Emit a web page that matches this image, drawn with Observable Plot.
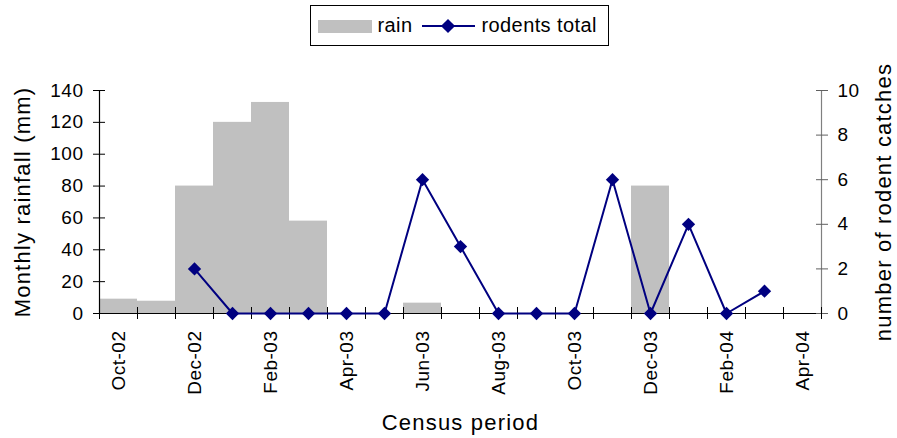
<!DOCTYPE html>
<html>
<head>
<meta charset="utf-8">
<script src="https://cdn.jsdelivr.net/npm/d3@7"></script>
<script src="https://cdn.jsdelivr.net/npm/@observablehq/plot@0.6"></script>
<style>
  body { margin: 0; background: #fff; font-family: "Liberation Sans", Arial, sans-serif; }
  #legend { position: relative; width: 897px; height: 50px; }
  #legend .box { position: absolute; left: 310px; top: 5px; width: 297px; height: 39px; border: 1.5px solid #000; }
  #legend .sw { position: absolute; left: 6.5px; top: 13.5px; width: 54px; height: 13px; background: #c0c0c0; }
  #legend .txt { position: absolute; top: 9px; font-size: 20px; line-height: 20px; color: #000; white-space: nowrap; letter-spacing: 0.4px; }
  #legend .ln { position: absolute; left: 110.5px; top: 18.5px; width: 53px; height: 2px; background: #000080; }
  #legend .dm { position: absolute; left: 131.5px; top: 14.5px; width: 10px; height: 10px; background: #000080; transform: rotate(45deg); }
  #chart svg text { letter-spacing: 0.5px; }
  #chart svg g.ttl text { letter-spacing: 1.2px; }
</style>
</head>
<body>
<div id="legend">
  <div class="box">
    <div class="sw"></div>
    <div class="txt" style="left:66.5px">rain</div>
    <div class="ln"></div>
    <div class="dm"></div>
    <div class="txt" style="left:170.5px">rodents total</div>
  </div>
</div>
<div id="chart"></div>
<script>
const months = ["Oct-02","Nov-02","Dec-02","Jan-03","Feb-03","Mar-03","Apr-03","May-03","Jun-03","Jul-03","Aug-03","Sep-03","Oct-03","Nov-03","Dec-03","Jan-04","Feb-04","Mar-04","Apr-04"];
const rain = [9, 7.7, 80, 120, 132.5, 58, 0, 0, 6.5, 0, 0, 0, 0, 0, 80, 0, 0, 0, 0];
const rodents = [null, null, 2, 0, 0, 0, 0, 0, 6, 3, 0, 0, 0, 6, 0, 4, 0, 1, null];
const rainTicks = [0, 20, 40, 60, 80, 100, 120, 140];
const rodentTicks = [0, 2, 4, 6, 8, 10];
const labelMonths = ["Oct-02","Dec-02","Feb-03","Apr-03","Jun-03","Aug-03","Oct-03","Dec-03","Feb-04","Apr-04"];

const rodentMax = 10, rainMax = 140;
const k = rainMax / rodentMax;

const table = months.map((m, i) => ({i, month: m, rain: rain[i], rodents: rodents[i]}));
const n = months.length;
const boundaries = d3.range(n + 1);
const labelPos = labelMonths.map(m => months.indexOf(m) + 0.5);

const chart = Plot.plot({
  width: 897,
  height: 388,
  marginLeft: 99,
  marginRight: 76,
  marginTop: 40,
  marginBottom: 125,
  style: {fontFamily: "'Liberation Sans', Arial, sans-serif", background: "#fff", color: "#000"},
  x: {domain: [0, n], axis: null},
  y: {domain: [0, rainMax], axis: null},
  marks: [
    Plot.rect(table.filter(d => d.rain > 0), {x1: "i", x2: d => d.i + 1, y1: 0, y2: "rain", fill: "#c0c0c0"}),
    Plot.ruleX([0], {stroke: "#000", strokeWidth: 1.2}),
    Plot.ruleX([n], {stroke: "#808080", strokeWidth: 1.2}),
    Plot.ruleY([0], {stroke: "#000", strokeWidth: 1.2}),
    Plot.axisY({ticks: rainTicks, anchor: "left", tickSize: 12, dx: 6, tickPadding: 10, fontSize: 19, label: null, stroke: "#000"}),
    Plot.axisY({ticks: rodentTicks.map(v => v * k), anchor: "right", tickFormat: d => String(Math.round(d / k)), tickSize: 12, dx: -6, tickPadding: 10, fontSize: 19, label: null, stroke: "#606060"}),
    Plot.axisX({ticks: boundaries, anchor: "bottom", tickSize: 12, dy: -6, tickFormat: () => "", label: null, stroke: "#000"}),
    Plot.axisX({ticks: labelPos, anchor: "bottom", tickSize: 0, tickPadding: 17, tickRotate: -90, tickFormat: d => months[Math.floor(d)], fontSize: 19, label: null}),
    Plot.line(table, {x: d => d.i + 0.5, y: d => d.rodents == null ? NaN : d.rodents * k, stroke: "#000080", strokeWidth: 2}),
    Plot.dot(table.filter(d => d.rodents != null), {x: d => d.i + 0.5, y: d => d.rodents * k, symbol: "diamond2", r: 6, fill: "#000080", stroke: "none"}),
    Plot.text(["Monthly rainfall (mm)"], {frameAnchor: "left", textAnchor: "middle", dx: -77, rotate: -90, fontSize: 22, text: d => d, fill: "#000", className: "ttl"}),
    Plot.text(["number of rodent catches"], {frameAnchor: "right", textAnchor: "middle", dx: 62, rotate: -90, fontSize: 22, text: d => d, fill: "#000", className: "ttl"}),
    Plot.text(["Census period"], {frameAnchor: "bottom", textAnchor: "middle", dy: 116, fontSize: 22, text: d => d, fill: "#000", className: "ttl"})
  ]
});
document.getElementById("chart").appendChild(chart);
</script>
</body>
</html>
